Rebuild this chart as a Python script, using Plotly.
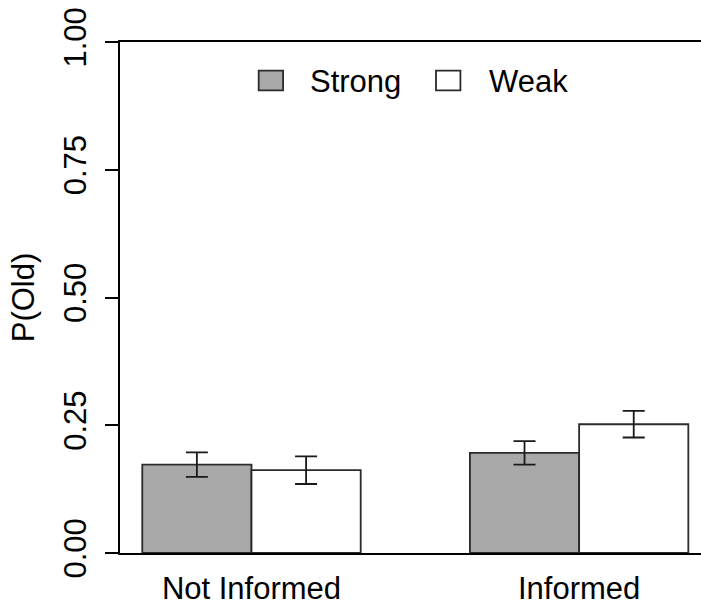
import plotly.graph_objects as go

# Conditions and measured proportions of "old" responses
conditions = ["Not Informed", "Informed"]
strong_mean = [0.173, 0.196]
strong_err = [0.024, 0.023]
weak_mean = [0.162, 0.252]
weak_err = [0.027, 0.026]
series_names = ["Strong", "Weak"]
y_ticks = [0.0, 0.25, 0.5, 0.75, 1.0]
y_tick_labels = ["0.00", "0.25", "0.50", "0.75", "1.00"]

STRONG_FILL = "#a9a9a9"
WEAK_FILL = "#ffffff"
EDGE = "#2b2b2b"
FONT = "Liberation Sans, Arial, sans-serif"
FS = 31

# grouped layout: two bars per group, one bar-width gap between groups
centers = [2 + 3 * i for i in range(len(conditions))]
strong_x = [c - 0.5 for c in centers]
weak_x = [c + 0.5 for c in centers]

fig = go.Figure()
for name, xs, ys, es, fill in [
    (series_names[0], strong_x, strong_mean, strong_err, STRONG_FILL),
    (series_names[1], weak_x, weak_mean, weak_err, WEAK_FILL),
]:
    fig.add_trace(go.Bar(
        name=name, x=xs, y=ys, width=1.0,
        marker=dict(color=fill, line=dict(color=EDGE, width=1.8)),
        error_y=dict(type="data", array=es, visible=True,
                     color="#1a1a1a", thickness=1.8, width=11),
        showlegend=False,
    ))

# legend: swatch boxes and labels across the top of the plot area
legend_items = [
    (series_names[0], STRONG_FILL, 0.2387, 0.323),
    (series_names[1], WEAK_FILL, 0.5439, 0.632),
]
for label, fill, bx, tx in legend_items:
    fig.add_shape(type="rect", xref="paper", yref="paper",
                  x0=bx, x1=bx + 0.0420, y0=0.9053, y1=0.9438,
                  fillcolor=fill, line=dict(color=EDGE, width=1.8))
    fig.add_annotation(xref="paper", yref="paper", x=tx, y=0.922,
                       xanchor="left", yanchor="middle", showarrow=False,
                       text=label, font=dict(family=FONT, size=FS, color="#000"))

fig.update_layout(
    width=701, height=608,
    margin=dict(l=120, r=0, t=42, b=55),
    paper_bgcolor="white", plot_bgcolor="white",
    font=dict(family=FONT, size=FS, color="#000"),
    barmode="overlay",
    showlegend=False,
)
fig.update_xaxes(
    range=[0.796, 6.116],
    tickvals=centers, ticktext=conditions,
    showline=True, mirror=True, linecolor="#000", linewidth=2,
    ticks="", showgrid=False, zeroline=False,
    ticklabelstandoff=7,
    tickfont=dict(family=FONT, size=FS, color="#000"),
)
fig.update_yaxes(
    range=[0, 1],
    tickvals=y_ticks, ticktext=y_tick_labels, tickangle=-90,
    showline=True, linecolor="#000", linewidth=2,
    ticks="outside", ticklen=13, tickwidth=2, tickcolor="#000",
    showgrid=False, zeroline=False,
    ticklabelstandoff=7,
    tickfont=dict(family=FONT, size=FS, color="#000"),
    title=dict(text="P(Old)", font=dict(family=FONT, size=FS, color="#000"), standoff=14),
)

fig.write_html("out.html")
